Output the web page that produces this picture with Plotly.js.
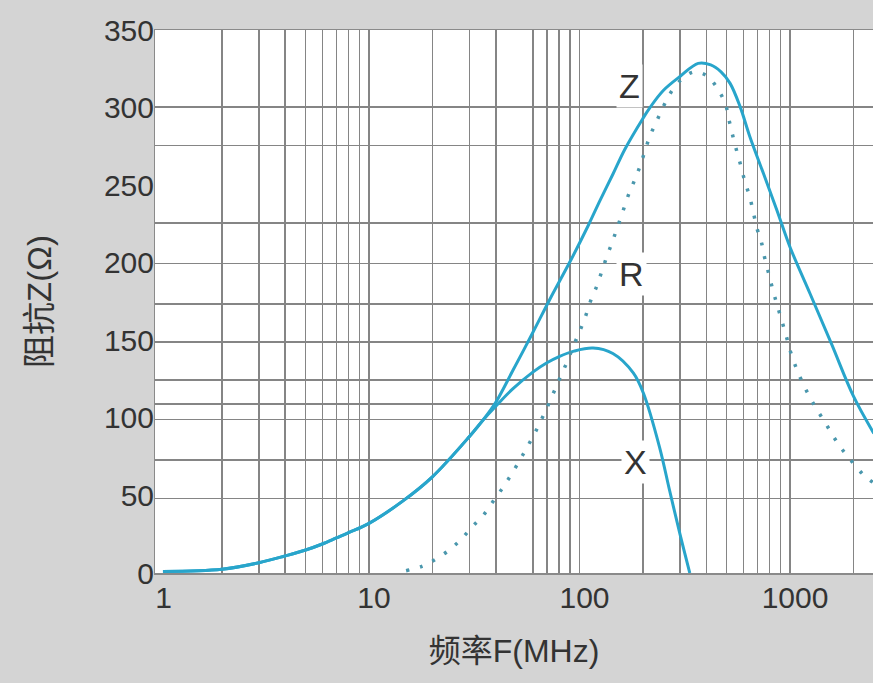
<!DOCTYPE html>
<html>
<head>
<meta charset="utf-8">
<script src="https://cdn.plot.ly/plotly-3.0.1.min.js"></script>
<style>html,body{margin:0;padding:0;background:#d4d4d4;}</style>
</head>
<body>
<div id="chart" style="width:873px;height:683px;"></div>
<script>
// Frequency (MHz) and impedance (Ohm)
const zFreq = [1.05, 2, 3, 4, 5, 6, 7, 8, 10, 14.5, 20, 30, 35, 40, 48, 60, 72, 92, 110, 125, 144, 164, 200, 216, 250, 300, 366, 420, 470, 519, 579, 645, 747, 865, 1000, 1245, 1570, 2000, 2500];
const zVal  = [1, 2.4, 6.6, 11, 14.8, 18.7, 22.6, 26, 32, 46.5, 62, 88, 99, 110, 130, 155, 176, 203, 224, 240, 257, 273, 293, 300, 311, 320, 328.5, 327.5, 323, 315.6, 300.6, 281, 257.6, 234, 210, 180, 148, 114, 90];

const xFreq = [1.05, 2, 3, 4, 5, 6, 7, 8, 10, 14.5, 20, 30, 35, 40, 48, 60, 70, 80, 94, 116, 144, 180, 201, 240, 268, 300, 334];
const xVal  = [1, 2.4, 6.6, 11, 14.8, 18.7, 22.6, 26, 32, 46.5, 62, 88, 99, 107.5, 118.5, 129.5, 135.5, 139.5, 143, 145, 141.5, 129, 116, 81, 53, 25, 0];

const rFreq = [15, 18, 20.8, 24.3, 27.5, 31, 35, 38.6, 42.7, 47, 51.5, 56, 61, 66, 71, 76, 81.4, 87.7, 93.5, 100, 106.5, 112.6, 120.4, 127.3, 134.8, 143.3, 151.4, 160.6, 170, 181, 193.5, 204, 216, 232, 250, 271, 303, 350, 407, 458, 494, 513, 534, 558, 585, 611, 642, 668, 697, 733, 758, 795, 830, 867, 912, 958, 1003, 1064, 1135, 1234, 1346, 1475, 1615, 1777, 1972, 2220, 2500];
const rVal  = [1.5, 4.5, 9, 15.3, 22, 30, 37.4, 45.6, 54, 62.7, 71.7, 80.4, 89.6, 99, 108.3, 117.5, 127, 136.7, 146.3, 155.5, 165, 175, 184.5, 194, 204, 213.6, 223, 233, 243, 252, 262, 271.6, 281.7, 291, 300.6, 309.6, 317.8, 323, 320, 311, 302, 292, 282, 272, 262, 252, 243, 233, 222, 212.5, 203, 192, 182, 173, 163, 153, 143, 133, 124, 114, 105, 96.5, 87.5, 79.3, 71.7, 63.6, 58];

// Axis ticks and grid positions
const xLabelVals = [1, 10, 100, 1000];
const xLabelText = ['1', '10', '100', '1000'];
const xGridVals = [2, 3, 4, 5, 6, 7, 8, 9, 10, 20, 30, 40, 60, 70, 80, 90, 100, 200, 300, 400, 500, 600, 700, 800, 900, 1000, 2000];
const yLabelVals = [0, 50, 100, 150, 200, 250, 300, 350];
const yGridVals = [48, 73, 99, 109, 124.5, 149, 173.5, 199.5, 225.5, 275.5, 300.5];

// Curve labels
const labelText = ['Z', 'R', 'X'];
const labelFreq = [172, 176, 185];
const labelVal = [314, 192.5, 71.5];

const lineColor = '#28a5cb';
const font = 'Liberation Sans, Arial, Noto Sans CJK SC, sans-serif';

const traces = [
  {x: rFreq, y: rVal, type: 'scatter', mode: 'lines', xaxis: 'x2', yaxis: 'y2',
   line: {color: '#4a97ad', width: 3.5, dash: '3px,11px', shape: 'spline'}, hoverinfo: 'skip'},
  {x: xFreq, y: xVal, type: 'scatter', mode: 'lines',
   line: {color: lineColor, width: 3, shape: 'spline', smoothing: 1}, hoverinfo: 'skip'},
  {x: zFreq, y: zVal, type: 'scatter', mode: 'lines',
   line: {color: lineColor, width: 3, shape: 'spline', smoothing: 1}, hoverinfo: 'skip'}
];

const xRange = [-0.0166, 3.394];
const layout = {
  width: 873, height: 683,
  margin: {l: 155, r: 0, t: 30, b: 110},
  paper_bgcolor: '#d4d4d4',
  plot_bgcolor: '#ffffff',
  showlegend: false,
  font: {family: font, color: '#333333'},
  xaxis: {
    type: 'log', range: xRange, tickvals: xGridVals, showticklabels: false,
    showgrid: true, gridcolor: '#858585', gridwidth: 1.5, ticks: '',
    showline: true, linecolor: '#8a8a8a', linewidth: 1.5, mirror: true, zeroline: false
  },
  xaxis2: {
    type: 'log', range: xRange, overlaying: 'x', anchor: 'y', side: 'bottom',
    tickvals: xLabelVals, ticktext: xLabelText, showgrid: false, ticks: '',
    ticklabelshift: 5, ticklabelstandoff: 4,
    tickfont: {size: 30, color: '#333333', family: font},
    title: {text: '频率F(MHz)', font: {size: 32, color: '#333333', family: font}, standoff: 26}
  },
  yaxis: {
    range: [0, 350], tickvals: yGridVals, showticklabels: false,
    showgrid: true, gridcolor: '#858585', gridwidth: 1.5, ticks: '',
    showline: true, linecolor: '#8a8a8a', linewidth: 1.5, zeroline: false
  },
  yaxis2: {
    range: [0, 350], overlaying: 'y', anchor: 'x', side: 'left',
    tickvals: yLabelVals, showgrid: false, ticks: '', zeroline: false,
    tickfont: {size: 30, color: '#333333', family: font},
    title: {text: '阻抗Z(Ω)', font: {size: 33, color: '#333333', family: font}, standoff: 42}
  },
  annotations: labelText.map((t, i) => ({
    x: Math.log10(labelFreq[i]), y: labelVal[i], xref: 'x', yref: 'y',
    text: t, showarrow: false, bgcolor: '#ffffff', borderpad: 2,
    font: {size: 34, color: '#333333', family: font}
  }))
};

Plotly.newPlot('chart', traces, layout, {staticPlot: true, displayModeBar: false});
</script>
</body>
</html>
